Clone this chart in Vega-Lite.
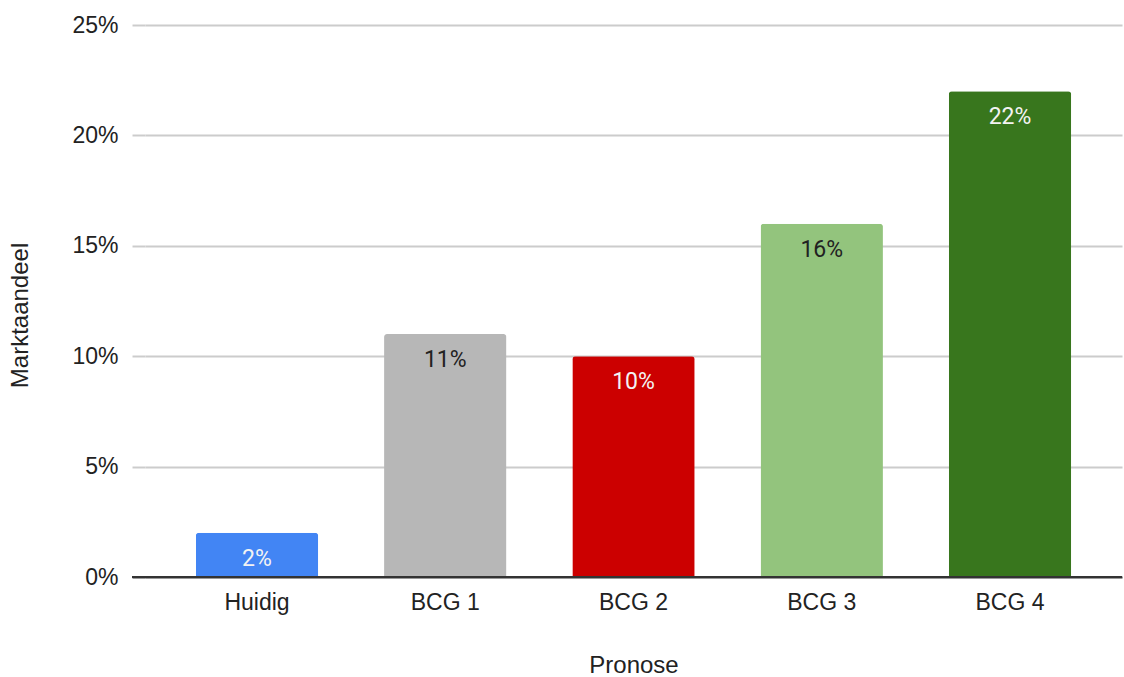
{
  "$schema": "https://vega.github.io/schema/vega-lite/v6.json",
  "width": 977,
  "height": 552,
  "autosize": {"type": "none"},
  "padding": {"left": 145, "top": 25, "right": 2, "bottom": 100},
  "background": "white",
  "config": {"view": {"stroke": null}, "font": "Liberation Sans"},
  "data": {
    "values": [
      {"Scenario": "Huidig", "Share": 0.02},
      {"Scenario": "BCG 1", "Share": 0.11},
      {"Scenario": "BCG 2", "Share": 0.10},
      {"Scenario": "BCG 3", "Share": 0.16},
      {"Scenario": "BCG 4", "Share": 0.22}
    ]
  },
  "encoding": {
    "x": {
      "field": "Scenario", "type": "nominal", "sort": null,
      "scale": {"paddingInner": 0.35, "paddingOuter": 0.27},
      "axis": {
        "title": "Pronose", "labelAngle": 0, "labelFont": "Liberation Sans", "labelFontSize": 23,
        "labelColor": "#222", "labelPadding": 14, "ticks": false, "domain": false,
        "titleFont": "Liberation Sans", "titleFontSize": 24, "titleFontWeight": "normal",
        "titleColor": "#222", "titleY": 88, "titleBaseline": "middle"
      }
    },
    "y": {
      "field": "Share", "type": "quantitative",
      "scale": {"domain": [0, 0.25]},
      "axis": {
        "title": "Marktaandeel", "format": ".0%", "values": [0, 0.05, 0.1, 0.15, 0.2, 0.25],
        "labelFont": "Liberation Sans", "labelFontSize": 23, "labelColor": "#222", "labelPadding": 14,
        "tickSize": 13, "tickColor": {"condition": {"test": "datum.value == 0", "value": "#333"}, "value": "#cccccc"}, "tickWidth": 2,
        "grid": true, "gridColor": {"condition": {"test": "datum.value == 0", "value": "#333"}, "value": "#cccccc"}, "gridWidth": 2,
        "domain": false,
        "titleFont": "Liberation Sans", "titleFontSize": 24, "titleFontWeight": "normal", "titleColor": "#222",
        "titleX": -125, "titleY": 290, "titleBaseline": "middle", "titleAngle": -90
      }
    }
  },
  "layer": [
    {
      "mark": {"type": "bar", "cornerRadiusTopLeft": 3, "cornerRadiusTopRight": 3},
      "encoding": {
        "color": {
          "field": "Scenario", "type": "nominal", "legend": null,
          "scale": {"domain": ["Huidig", "BCG 1", "BCG 2", "BCG 3", "BCG 4"],
                    "range": ["#4285f4", "#b7b7b7", "#cc0000", "#93c47d", "#38761d"]}
        }
      }
    },
    {
      "mark": {"type": "rule", "color": "#333", "strokeWidth": 2},
      "encoding": {"y": {"datum": 0}, "x": {"value": -13}, "x2": {"value": 977}}
    },
    {
      "mark": {"type": "text", "font": "Roboto", "fontSize": 23, "baseline": "middle", "dy": 26},
      "encoding": {
        "text": {"field": "Share", "type": "quantitative", "format": ".0%"},
        "color": {"condition": {"test": "datum.Scenario == 'BCG 1' || datum.Scenario == 'BCG 3'", "value": "#222222"}, "value": "#f3f3f3"}
      }
    }
  ]
}
